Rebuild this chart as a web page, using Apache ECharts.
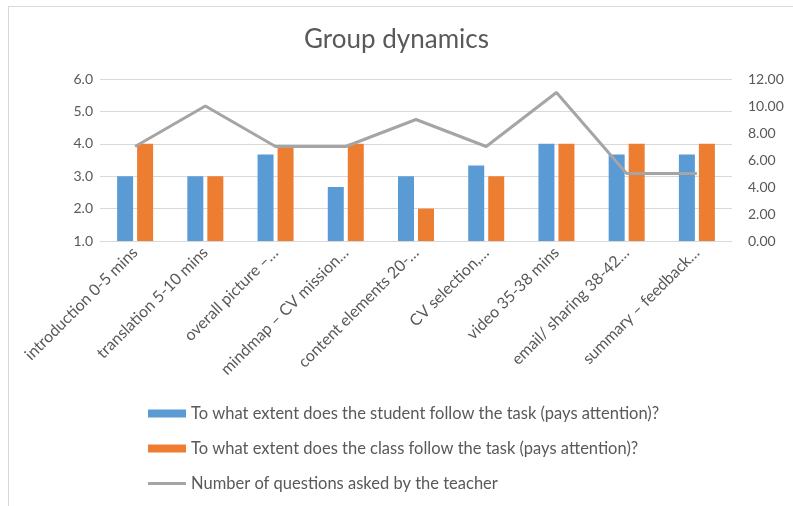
<!DOCTYPE html>
<html>
<head>
<meta charset="utf-8">
<script src="https://cdn.jsdelivr.net/npm/echarts@6/dist/echarts.min.js"></script>
<style>
html,body{margin:0;padding:0;background:#fff;}
#frame{position:absolute;left:8px;top:6px;width:785px;height:500px;border-top:1px solid #d9d9d9;border-left:1px solid #d9d9d9;}
#chart{position:absolute;left:0;top:0;width:793px;height:506px;}
</style>
</head>
<body>
<div id="frame"></div>
<div id="chart"></div>
<script>
const categories = ["introduction 0-5 mins","translation 5-10 mins","overall picture –…","mindmap – CV mission…","content elements 20-…","CV selection,…","video 35-38 mins","email/ sharing 38-42…","summary – feedback…"];
const studentFollow = [3, 3, 3.67, 2.67, 3, 3.33, 4, 3.67, 3.67];
const classFollow = [4, 3, 3.9, 4, 2, 3, 4, 4, 4];
const teacherQuestions = [7, 10, 7, 7, 9, 7, 11, 5, 5];
const seriesNames = ["To what extent does the student follow the task (pays attention)?","To what extent does the class follow the task (pays attention)?","Number of questions asked by the teacher"];

const txt = '#595959';
const font = 'Lato, sans-serif';
const chart = echarts.init(document.getElementById('chart'));
chart.setOption({
  animation:false,
  textStyle:{fontFamily:font},
  title:{text:'Group dynamics',left:'center',top:22,textStyle:{fontSize:26,fontWeight:'normal',color:txt,fontFamily:font}},
  grid:{left:100,right:61,top:79,bottom:265,containLabel:false},
  legend:{orient:'vertical',left:148,top:405,padding:0,itemWidth:38,itemHeight:8,itemGap:18,
    textStyle:{fontSize:16.5,color:txt,fontFamily:font},
    data:[{name:seriesNames[0],icon:'rect'},{name:seriesNames[1],icon:'rect'},{name:seriesNames[2],icon:'path://M0,0L38,0L38,3L0,3Z'}]},
  xAxis:{type:'category',data:categories,
    axisLine:{lineStyle:{color:'#d9d9d9'}},axisTick:{show:false},
    axisLabel:{rotate:45,color:txt,fontSize:16,interval:0,margin:9}},
  yAxis:[
    {type:'value',min:1,max:6,interval:1,axisLine:{show:false},axisTick:{show:false},
     splitLine:{lineStyle:{color:'#d9d9d9'}},
     axisLabel:{color:txt,fontSize:14,margin:7,formatter:v=>v.toFixed(1)}},
    {type:'value',min:0,max:12,interval:2,axisLine:{show:false},axisTick:{show:false},
     splitLine:{show:false},
     axisLabel:{color:txt,fontSize:14,margin:16,formatter:v=>v.toFixed(2)}}
  ],
  series:[
    {name:seriesNames[0],type:'bar',data:studentFollow,barWidth:16,barGap:'25%',itemStyle:{color:'#5b9bd5'}},
    {name:seriesNames[1],type:'bar',data:classFollow,barWidth:16,itemStyle:{color:'#ed7d31'}},
    {name:seriesNames[2],type:'line',yAxisIndex:1,data:teacherQuestions,symbol:'none',
     lineStyle:{color:'#a5a5a5',width:3},itemStyle:{color:'#a5a5a5'}}
  ]
});
</script>
</body>
</html>
